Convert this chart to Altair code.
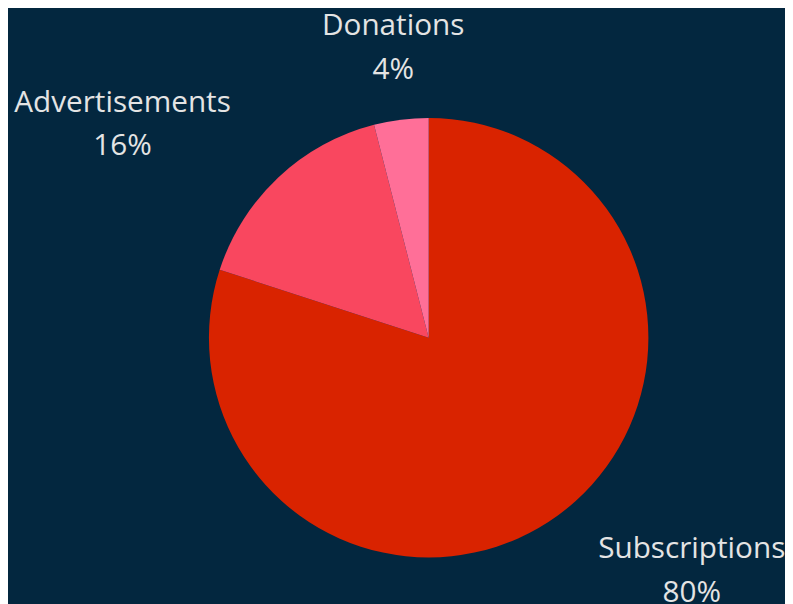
import altair as alt
import pandas as pd

categories = ["Subscriptions", "Advertisements", "Donations"]
values = [80, 16, 4]
order = [1, 2, 3]
colors = ["#d92300", "#f9475f", "#ff6f98"]

df = pd.DataFrame({
    "category": categories,
    "value": values,
    "order": order,
})
df["label"] = [f"{c}\n{v}%" for c, v in zip(categories, values)]

BG = "#03273f"
CX, CY = 425, 330
R = 222
LR = 294

base = alt.Chart(df).encode(
    theta=alt.Theta("value:Q", stack=True),
    order=alt.Order("order:Q"),
)

pie = base.mark_arc(radius=R, stroke=None).encode(
    x=alt.value(CX), y=alt.value(CY),
    color=alt.Color("category:N", scale=alt.Scale(domain=categories, range=colors), legend=None),
)

def label_layer(cat, dx, dy):
    return base.mark_text(
        radius=LR, align="center", baseline="middle", lineBreak="\n",
        font="Open Sans", fontSize=30, lineHeight=44, color="#e4e4e4", dx=dx, dy=dy,
    ).encode(
        x=alt.value(CX), y=alt.value(CY),
        text=alt.condition(f"datum.category == '{cat}'", "label:N", alt.value("")),
    )

chart = alt.layer(
    pie,
    label_layer("Donations", 1, -23),
    label_layer("Advertisements", -108, -23),
    label_layer("Subscriptions", 93, -24),
).properties(
    width=785, height=596, background=BG, padding=0,
    autosize=alt.AutoSizeParams(type="none"),
).configure_view(stroke=None)

chart.save("out.html", embed_options={"renderer": "svg", "actions": False})
